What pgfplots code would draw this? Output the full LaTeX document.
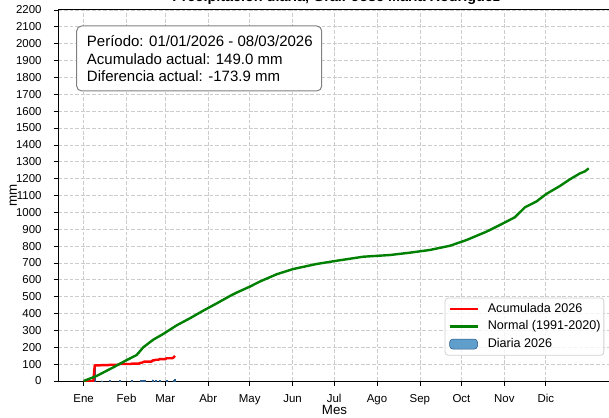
\documentclass[border=0pt]{standalone}
\usepackage{fontspec}
\setmainfont{Liberation Sans}
\usepackage{pgfplots}
\pgfplotsset{compat=1.18}
\definecolor{barblue}{RGB}{58,134,192}
\definecolor{baredge}{RGB}{40,90,140}
\definecolor{mplgreen}{RGB}{0,128,0}
\begin{document}
\begin{tikzpicture}
\begin{axis}[
  name=ax,
  at={(0,0)}, anchor=south west,
  scale only axis,
  width=416.7pt, height=278.25pt,
  xmin=-17.25, xmax=384.25,
  ymin=0, ymax=2200,
  xtick={1,32,60,91,121,152,182,213,244,274,305,335},
  xticklabels={Ene,Feb,Mar,Abr,May,Jun,Jul,Ago,Sep,Oct,Nov,Dic},
  ytick={0,100,...,2200},
  scaled y ticks=false,
  xtick pos=bottom, ytick pos=left,
  tick align=outside,
  major tick length=3.6pt,
  tick style={black, line width=0.6pt},
  axis line style={black, line width=0.75pt},
  grid=major,
  major grid style={gray!40, line width=0.6pt, dash pattern=on 2.8pt off 1.4pt},
  /pgf/number format/assume math mode=true,
  /pgf/number format/set thousands separator={},
  ticklabel style={font=\fontsize{8.6}{10}\selectfont},
  xticklabel style={anchor=base, inner sep=0pt, yshift=-12.3pt},
  yticklabel style={anchor=east, inner sep=0pt, xshift=-8.8pt},
  xlabel={Mes}, ylabel={mm},
  label style={font=\fontsize{8.6}{10}\selectfont},
  every axis x label/.style={at={(axis description cs:0.497,-0.0916)}, anchor=base},
  every axis y label/.style={at={(axis description cs:-0.0812,0.5)}, anchor=center, rotate=90},
  legend style={at={(0.9825,0.0682)}, anchor=south east, draw=gray!35, fill=white,
    fill opacity=0.8, text opacity=1, rounded corners=2.5pt,
    font=\fontsize{9.45}{11}\selectfont, inner xsep=2.5pt, inner ysep=3.9pt,
    row sep=4.1pt, column sep=6.75pt,
    nodes={inner sep=0pt, text height=7pt, text depth=2pt}, line width=0.6pt},
  legend cell align=left,
  legend image code/.code={\draw[#1] (0pt,0pt) -- (21pt,0pt);},
]
% daily bars
\addplot[ybar, bar width=0.8, fill=barblue, draw=baredge, line width=0.3pt, forget plot]
coordinates {(9,93) (14,1.5) (20,2) (27,4.5) (36,2) (42,5.5) (44,4) (45,2.5)
 (51,7.5) (53,3.5) (56,4) (61,5) (66,4.5) (67,9.5)};
% accumulated 2026
\addplot[red, line width=1.8pt, line join=round] coordinates {
(1,0) (8,0) (9,93) (13,93) (14,94.5) (19,94.5) (20,96.5) (26,96.5) (27,101)
(35,101) (36,103) (41,103) (42,108.5) (43,108.5) (44,112.5) (45,115) (50,115)
(51,122.5) (52,122.5) (53,126) (55,126) (56,130) (60,130) (61,135) (65,135)
(66,139.5) (67,149)};
\addlegendentry{Acumulada 2026}
% normal
\addplot[mplgreen, line width=1.8pt, line join=round] coordinates {
(1,0) (10.4,30) (22.4,81) (32.1,124) (39.3,154) (44.1,200) (51.3,245)
(58.5,279) (68.2,330) (77.8,372) (87.4,417) (97.1,460) (106.7,504)
(111.5,524) (121.2,560) (128.4,590) (140.5,633) (152.4,664) (169.4,694)
(183.8,713) (203.0,737) (222.3,747) (236.8,761) (251.2,777) (265.7,802)
(277.7,836) (292.2,886) (301.8,925) (312.6,971) (319.9,1030) (328.3,1065)
(335.5,1110) (345.1,1156) (352.4,1196) (359.6,1231) (363.2,1243) (366,1261)};
\addlegendentry{Normal (1991-2020)}
\addlegendimage{legend image code/.code={\draw[fill=barblue,draw=baredge,line width=0.4pt] (0pt,-3.75pt) rectangle (21pt,3.75pt);}}
\addlegendentry{Diaria 2026}
% info box
\draw[gray, line width=0.75pt, rounded corners=3.75pt, fill=white]
  (rel axis cs:0.0329,0.9569) rectangle (rel axis cs:0.4739,0.7817);
\node[anchor=base west, inner sep=0pt, font=\fontsize{11.25}{13}\selectfont] at (rel axis cs:0.0509,0.9011) {Período: 01/01/2026 - 08/03/2026};
\node[anchor=base west, inner sep=0pt, font=\fontsize{11.25}{13}\selectfont] at (rel axis cs:0.0509,0.8536) {Acumulado actual: 149.0 mm};
\node[anchor=base west, inner sep=0pt, font=\fontsize{11.25}{13}\selectfont] at (rel axis cs:0.0509,0.8073) {Diferencia actual: -173.9 mm};
\end{axis}
\node[anchor=base, inner sep=0pt, font=\bfseries\fontsize{10.8}{13}\selectfont] at ([yshift=6.2pt]ax.north) {Precipitación diaria, Gral. José María Rodríguez};
\pgfresetboundingbox
\path[use as bounding box] (-43.8pt,-27pt) rectangle (412.95pt,285.75pt);
\end{tikzpicture}
\end{document}
